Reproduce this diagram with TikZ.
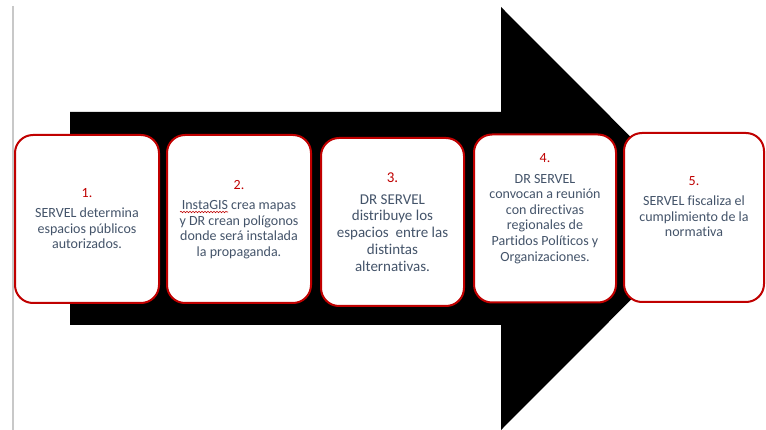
\documentclass[tikz,border=0pt]{standalone}
\usepackage{fontspec}
\setmainfont{Carlito}[Ligatures = NoCommon]
\usetikzlibrary{decorations.pathmorphing}
\definecolor{myred}{RGB}{192, 0, 0}
\definecolor{mytext}{RGB}{68, 84, 106}
\definecolor{mygray}{RGB}{200, 200, 200}
\tikzset{>=latex}
\tikzset{
  stepbox/.style = {draw = myred, line width = 2pt, fill = white, rounded corners = 18pt, minimum width = 144pt, minimum height = 168pt},
  steptext/.style = {align = center, text = mytext, font = \fontsize{14}{15.6}\selectfont}
}
\newcommand{\stepnum}[1]{\textcolor{myred}{#1}\\[5pt]}

\begin{document}
\begin{tikzpicture}[x = 1pt, y = -1pt]
\useasboundingbox (0,0) rectangle (766, 430);

\draw[mygray, line width = 1.5pt] (13,6) -- (13,430);
\fill (70,112) -- (501,112) -- (501,7) -- (712,218.5) -- (501,430) -- (501,325) -- (70,325) -- cycle;

\node[stepbox] (b1) at (87, 219) {};
\node[stepbox] (b2) at (239, 219) {};
\node[stepbox, minimum width = 143pt] (b3) at (392.5, 222) {};
\node[stepbox, minimum width = 142pt] (b4) at (545, 218.5) {};
\node[stepbox, minimum width = 140pt, minimum height = 169pt] (b5) at (694, 217.5) {};

\node[steptext] (t1) at (87, 218.5) {\stepnum{1.}SERVEL determina\\espacios públicos\\autorizados.};
\node[steptext] (t2) at (239, 219.5) {\stepnum{2.}InstaGIS crea mapas\\y DR crean polígonos\\donde será instalada\\la propaganda.};
\node[steptext, font = \fontsize{15}{16.7}\selectfont] (t3) at (392.5, 222) {\stepnum{3.}DR SERVEL\\distribuye los\\espacios\ \ entre las\\distintas\\alternativas.};
\node[steptext] (t4) at (545, 208.5) {\stepnum{4.}DR SERVEL\\convocan a reunión\\con directivas\\regionales de\\Partidos Políticos y\\Organizaciones.};
\node[steptext] (t5) at (694, 206.5) {\stepnum{5.}SERVEL fiscaliza el\\cumplimiento de la\\normativa};

\draw[myred, line width = 0.6pt, decorate, decoration = {snake, amplitude = 0.7pt, segment length = 3pt}] (180, 212) -- (228, 212);

\end{tikzpicture}
\end{document}
